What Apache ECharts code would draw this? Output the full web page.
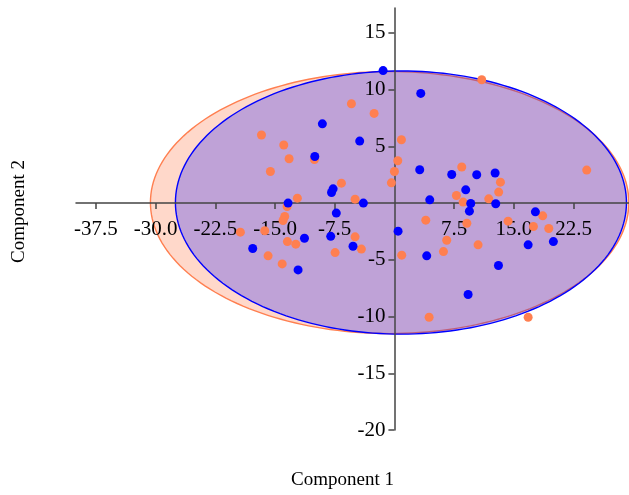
<!DOCTYPE html>
<html>
<head>
<meta charset="utf-8">
<style>
  html, body { margin: 0; padding: 0; background: #fff; }
  #chart { width: 629px; height: 495px; }
</style>
<script src="https://cdn.jsdelivr.net/npm/echarts@6/dist/echarts.min.js"></script>
</head>
<body>
<div id="chart"></div>
<script>
// group 1 (orange) scores
const orangeX = [-5.4, -2.55, -16.7, -13.9, -13.23, -10.05, 0.88, 0.42, 0.0, -0.38,
  -15.58, -6.66, -12.19, -4.94, -13.48, -13.78, -13.99, -19.35, -16.29, -13.44,
  -12.39, -4.94, -4.15, -15.87, -14.1, -7.45, 0.92, 10.97, 8.46, 13.32,
  13.1, 7.79, 8.63, 11.85, 24.16, 3.94, 9.1, 14.28, 18.63, 17.46,
  19.39, 6.57, 10.51, 6.16, 4.36, 16.8]
const orangeY = [8.76, 7.91, 6.0, 5.12, 3.91, 3.85, 5.59, 3.73, 2.79, 1.79,
  2.79, 1.76, 0.44, 0.35, -0.3, -1.18, -1.53, -2.56, -2.44, -3.39,
  -3.62, -2.97, -4.05, -4.65, -5.36, -4.36, -4.59, 10.88, 3.18, 1.85,
  0.97, 0.67, 0.09, 0.38, 2.91, -1.5, -1.77, -1.59, -1.12, -2.06,
  -2.24, -3.27, -3.68, -4.27, -10.06, -10.06]

// group 2 (blue) scores
const blueX = [-1.42, -9.05, -4.36, -10.0, -7.7, -7.9, -13.36, -3.9, -7.3, 0.46,
  -11.3, -8.0, -5.2, -17.8, -12.1, 3.31, 3.18, 7.2, 10.34, 12.65,
  8.96, 4.44, 9.59, 12.73, 9.42, 17.71, 16.8, 19.97, 4.06, 13.07, 9.26]
const blueY = [11.68, 6.99, 5.47, 4.11, 1.26, 0.94, 0.0, 0.0, -0.88, -2.47,
  -3.1, -2.93, -3.8, -4.0, -5.89, 9.67, 2.94, 2.52, 2.5, 2.65,
  1.17, 0.29, -0.03, -0.06, -0.71, -0.77, -3.68, -3.39, -4.65, -5.5, -8.06]

// confidence ellipses: orange, blue
const ellipseCenterX = [-0.6, 0.82]
const ellipseCenterY = [0.05, 0.05]
const ellipseRadiusX = [30.05, 28.33]
const ellipseRadiusY = [11.55, 11.6]

const xTicks = [-37.5, -30, -22.5, -15, -7.5, 7.5, 15, 22.5]
const yTicks = [-20, -15, -10, -5, 5, 10, 15]

const chart = echarts.init(document.getElementById('chart'))

const zip = (xs, ys) => xs.map((x, i) => [x, ys[i]])

// 椭圆：用坐标轴换算参数曲线上的点
const ellipseItem = (fill, stroke) => (params, api) => {
  const cx = api.value(0), cy = api.value(1), rx = api.value(2), ry = api.value(3)
  const pts = []
  for (let i = 0; i < 200; i++) {
    const t = i / 200 * Math.PI * 2
    pts.push(api.coord([cx + rx * Math.cos(t), cy + ry * Math.sin(t)]))
  }
  return {
    type: 'polygon',
    shape: { points: pts },
    style: { fill: fill, stroke: stroke, lineWidth: 1.4 }
  }
}

const labelFont = { fontFamily: 'Liberation Serif', fontSize: 21, color: '#000' }
const axisLineStyle = { color: '#444', width: 1.5 }

const option = {
  backgroundColor: '#fff',
  animation: false,
  grid: { left: 76, right: 0, top: 8, bottom: 65, outerBoundsMode: 'none' },
  xAxis: {
    type: 'value',
    position: 'bottom',
    min: -40,
    max: 29.47,
    axisLine: { onZero: false, lineStyle: axisLineStyle },
    axisTick: { show: true, length: 6, customValues: xTicks, lineStyle: axisLineStyle },
    axisLabel: { ...labelFont, margin: 16, customValues: xTicks, formatter: v => v.toFixed(1) },
    splitLine: { show: false }
  },
  yAxis: {
    type: 'value',
    position: 'left',
    min: -20,
    max: 17.2,
    axisLine: { onZero: false, lineStyle: axisLineStyle },
    axisTick: { show: true, length: 6, customValues: yTicks, lineStyle: axisLineStyle },
    axisLabel: { ...labelFont, margin: 9, customValues: yTicks },
    splitLine: { show: false }
  },
  graphic: [
    {
      type: 'text', left: 291, top: 471,
      style: { text: 'Component 1', fontFamily: 'Liberation Serif', fontSize: 19, fill: '#000' }
    },
    {
      type: 'text', x: 10, y: 263, rotation: Math.PI / 2,
      style: { text: 'Component 2', fontFamily: 'Liberation Serif', fontSize: 19, fill: '#000' }
    }
  ],
  series: [
    {
      type: 'custom',
      z: -2,
      renderItem: ellipseItem('rgba(255,127,80,0.3)', '#ff7f50'),
      data: [[ellipseCenterX[0], ellipseCenterY[0], ellipseRadiusX[0], ellipseRadiusY[0]]]
    },
    {
      type: 'custom',
      z: -1,
      renderItem: ellipseItem('rgba(0,0,255,0.25)', '#0000ff'),
      data: [[ellipseCenterX[1], ellipseCenterY[1], ellipseRadiusX[1], ellipseRadiusY[1]]]
    },
    {
      type: 'scatter',
      symbolSize: 9,
      itemStyle: { color: '#ff7f50', opacity: 1 },
      data: zip(orangeX, orangeY)
    },
    {
      type: 'scatter',
      symbolSize: 9,
      itemStyle: { color: '#0000ff', opacity: 1 },
      data: zip(blueX, blueY)
    }
  ]
}

chart.setOption(option)

// 把两条轴移到原点处（轴线、刻度、标签一起移动）
const origin = chart.convertToPixel({ gridIndex: 0 }, [0, 0])
const corner = chart.convertToPixel({ gridIndex: 0 }, [-40, -20])
chart.setOption({
  xAxis: { offset: -(corner[1] - origin[1]) },
  yAxis: { offset: -(origin[0] - corner[0]) }
})
</script>
</body>
</html>
